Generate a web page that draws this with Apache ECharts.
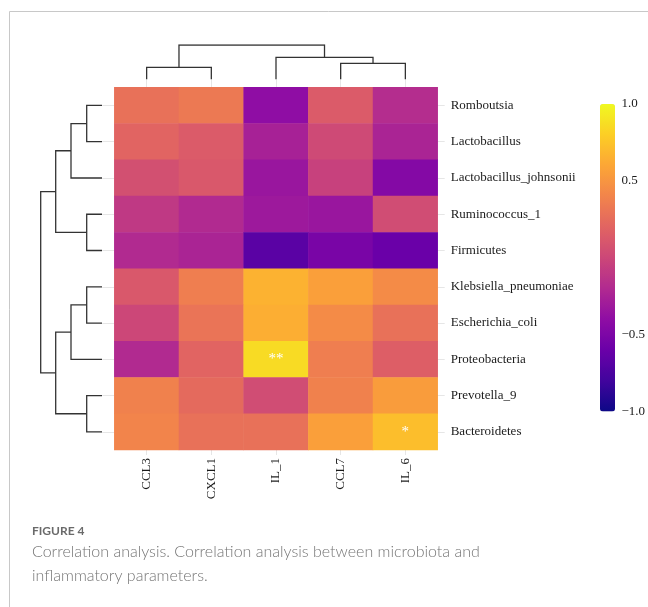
<!DOCTYPE html>
<html>
<head>
<meta charset="utf-8">
<script src="https://cdn.jsdelivr.net/npm/echarts@6/dist/echarts.min.js"></script>
<style>
html,body{margin:0;padding:0;background:#fff;}
#c{width:648px;height:607px;}
</style>
</head>
<body>
<div id="c"></div>
<script>
// ---- data ----
var columns = ['CCL3', 'CXCL1', 'IL_1', 'CCL7', 'IL_6'];
var rows = ['Romboutsia', 'Lactobacillus', 'Lactobacillus_johnsonii', 'Ruminococcus_1', 'Firmicutes',
            'Klebsiella_pneumoniae', 'Escherichia_coli', 'Proteobacteria', 'Prevotella_9', 'Bacteroidetes'];
// correlation values, one array per row (columns order above)
var rRomboutsia      = [0.28, 0.33, -0.40, 0.14, -0.18];
var rLactobacillus   = [0.20, 0.14, -0.26, 0.02, -0.24];
var rLjohnsonii      = [0.06, 0.12, -0.34, -0.04, -0.46];
var rRuminococcus    = [-0.10, -0.20, -0.32, -0.34, 0.04];
var rFirmicutes      = [-0.20, -0.24, -0.68, -0.52, -0.60];
var rKlebsiella      = [0.12, 0.36, 0.66, 0.56, 0.44];
var rEscherichia     = [0.00, 0.30, 0.64, 0.44, 0.28];
var rProteobacteria  = [-0.20, 0.20, 0.86, 0.36, 0.16];
var rPrevotella      = [0.38, 0.24, 0.04, 0.38, 0.54];
var rBacteroidetes   = [0.40, 0.28, 0.28, 0.56, 0.72];
var valueRows = [rRomboutsia, rLactobacillus, rLjohnsonii, rRuminococcus, rFirmicutes,
                 rKlebsiella, rEscherichia, rProteobacteria, rPrevotella, rBacteroidetes];
// significance marks: [column index, row index, mark]
var sigMarks = [[2, 7, '**'], [4, 9, '*']];
// hierarchical clustering (linkage: [a, b, height]; new cluster id = n + step)
var colLinkage = [[0, 1, 12], [3, 4, 16], [2, 6, 22], [5, 7, 34.3]];
var rowLinkage = [[0, 1, 15.3], [10, 2, 31], [3, 4, 15.3], [11, 12, 46.3], [5, 6, 15.3],
                  [14, 7, 31], [8, 9, 15.3], [15, 16, 46.3], [13, 17, 61.3]];
var colorbarTicks = [1.0, 0.5, -0.5, -1.0];
var plasma = ['#0d0887', '#41049d', '#6a00a8', '#8f0da4', '#b12a90', '#cc4778',
              '#e16462', '#f2844b', '#fca636', '#fcce25', '#f0f921'];

// ---- build ----
var heatData = [];
valueRows.forEach(function (r, ri) {
  r.forEach(function (v, ci) { heatData.push([ci, ri, v]); });
});
function markOf(ci, ri) {
  for (var i = 0; i < sigMarks.length; i++) {
    if (sigMarks[i][0] === ci && sigMarks[i][1] === ri) return sigMarks[i][2];
  }
  return '';
}
function dendro(linkage, n, horizontal) {
  var pos = [], ht = [];
  for (var i = 0; i < n; i++) { pos.push(i); ht.push(0); }
  var segs = [];
  linkage.forEach(function (m) {
    var a = m[0], b = m[1], h = m[2];
    var pts = [[pos[a], ht[a]], [pos[a], h], [pos[b], h], [pos[b], ht[b]]];
    if (!horizontal) pts = pts.map(function (p) { return [p[1], p[0]]; });
    segs.push({ coords: pts });
    pos.push((pos[a] + pos[b]) / 2);
    ht.push(h);
  });
  return segs;
}
var colSegs = dendro(colLinkage, columns.length, true);
var rowSegs = dendro(rowLinkage, rows.length, false);

var serif = 'Liberation Serif';
var HM = { left: 114.3, top: 87.3, width: 323.4, height: 362.7 };
var tickColor = '#e6e6e6';

var chart = echarts.init(document.getElementById('c'));
chart.setOption({
  backgroundColor: '#fff',
  animation: false,
  title: [
    { text: 'FIGURE 4', left: 32, top: 524, padding: 0,
      textStyle: { fontFamily: 'Lato', fontSize: 12, fontWeight: 'bold', color: '#6a6a6a', lineHeight: 14 } },
    { text: 'Correlation analysis. Correlation analysis between microbiota and\ninflammatory parameters.',
      left: 32, top: 540, padding: 0,
      textStyle: { fontFamily: 'Lato', fontSize: 16, fontWeight: 300, color: '#757575', lineHeight: 24 } }
  ],
  grid: [
    { left: HM.left, top: HM.top, width: HM.width, height: HM.height },               // heatmap
    { left: HM.left, top: 45, width: HM.width, height: 34.3 },                         // top dendrogram
    { left: 40.7, top: HM.top, width: 61.3, height: HM.height },                      // left dendrogram
    { left: 600, top: 104, width: 15, height: 307.5 }                                  // colorbar axis
  ],
  xAxis: [
    { gridIndex: 0, type: 'category', data: columns, position: 'bottom',
      axisLine: { show: false }, axisTick: { show: true, alignWithLabel: true, length: 5, lineStyle: { color: tickColor } },
      axisLabel: { rotate: 90, margin: 8, fontFamily: serif, fontSize: 13, color: '#1a1a1a' }, splitLine: { show: false } },
    { gridIndex: 0, type: 'category', data: columns, position: 'top',
      axisLine: { show: false }, axisTick: { show: true, alignWithLabel: true, length: 8, lineStyle: { color: tickColor } },
      axisLabel: { show: false } },
    { gridIndex: 1, type: 'value', min: -0.5, max: 4.5, show: false },
    { gridIndex: 2, type: 'value', min: 0, max: 61.3, inverse: true, show: false },
    { gridIndex: 3, type: 'value', show: false }
  ],
  yAxis: [
    { gridIndex: 0, type: 'category', data: rows, inverse: true, position: 'right',
      axisLine: { show: false }, axisTick: { show: true, alignWithLabel: true, length: 7, lineStyle: { color: tickColor } },
      axisLabel: { margin: 13, fontFamily: serif, fontSize: 13, color: '#1a1a1a' }, splitLine: { show: false } },
    { gridIndex: 0, type: 'category', data: rows, inverse: true, position: 'left',
      axisLine: { show: false }, axisTick: { show: true, alignWithLabel: true, length: 12, lineStyle: { color: tickColor } },
      axisLabel: { show: false } },
    { gridIndex: 1, type: 'value', min: 0, max: 34.3, show: false },
    { gridIndex: 2, type: 'value', min: -0.5, max: 9.5, inverse: true, show: false },
    { gridIndex: 3, type: 'value', min: -1, max: 1, interval: 0.5, position: 'right',
      axisLine: { show: false }, axisTick: { show: false }, splitLine: { show: false },
      axisLabel: { margin: 7, fontFamily: serif, fontSize: 13, color: '#1a1a1a',
        formatter: function (v) {
          for (var i = 0; i < colorbarTicks.length; i++) {
            if (Math.abs(colorbarTicks[i] - v) < 1e-9) return (v < 0 ? '\u2212' : '') + Math.abs(v).toFixed(1);
          }
          return '';
        } } }
  ],
  visualMap: {
    type: 'continuous', min: -1, max: 1, seriesIndex: 0, calculable: false,
    left: 600, top: 104, itemWidth: 15, itemHeight: 307.5, padding: 0,
    text: null, showLabel: false, hoverLink: false,
    inRange: { color: plasma }
  },
  series: [
    { type: 'heatmap', xAxisIndex: 0, yAxisIndex: 0, data: heatData,
      label: { show: true, color: '#fff', fontSize: 15, fontFamily: serif, offset: [0, 0],
        formatter: function (p) { return markOf(p.data[0], p.data[1]); } },
      itemStyle: { borderWidth: 0 }, emphasis: { disabled: true } },
    { type: 'lines', coordinateSystem: 'cartesian2d', xAxisIndex: 2, yAxisIndex: 2, polyline: true,
      data: colSegs, lineStyle: { color: '#333', width: 1.3, opacity: 1 }, silent: true },
    { type: 'lines', coordinateSystem: 'cartesian2d', xAxisIndex: 3, yAxisIndex: 3, polyline: true,
      data: rowSegs, lineStyle: { color: '#333', width: 1.3, opacity: 1 }, silent: true },
    { type: 'line', xAxisIndex: 4, yAxisIndex: 4, data: [], silent: true }
  ],
  graphic: [
    { type: 'line', shape: { x1: 9.5, y1: 11.5, x2: 648, y2: 11.5 }, style: { stroke: '#c8c8c8', lineWidth: 1 }, silent: true },
    { type: 'line', shape: { x1: 9.5, y1: 11.5, x2: 9.5, y2: 607 }, style: { stroke: '#c8c8c8', lineWidth: 1 }, silent: true }
  ]
});
</script>
</body>
</html>
